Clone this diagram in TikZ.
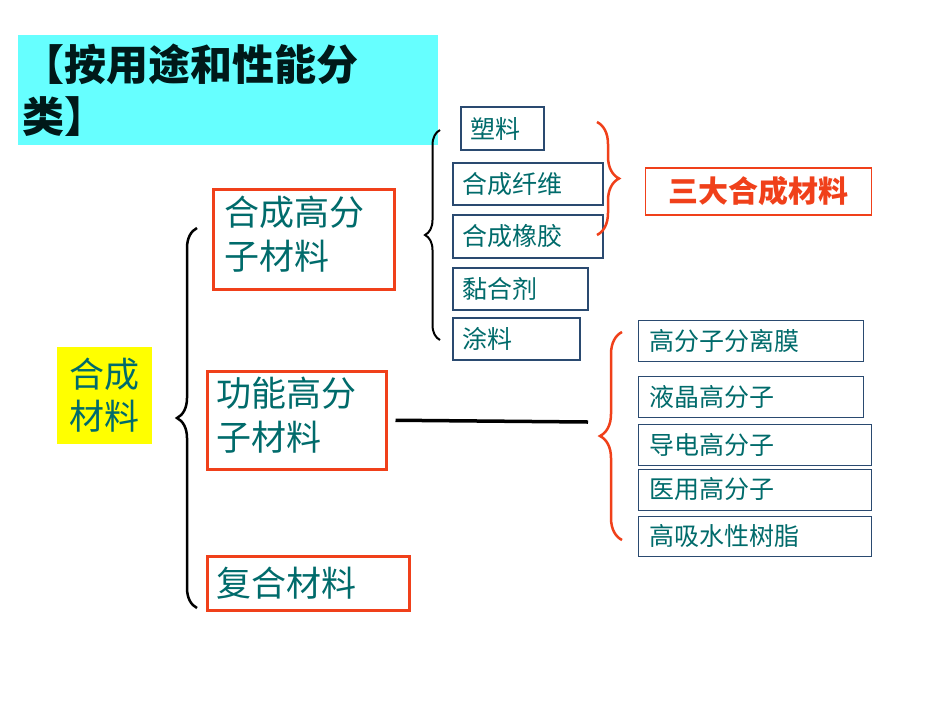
\documentclass[tikz,border=0pt]{standalone}
\usepackage{fontspec}
\setmainfont{Noto Sans CJK SC}
\usetikzlibrary{decorations.pathreplacing}
\definecolor{tl}{HTML}{006B6B}
\definecolor{rd}{HTML}{F0401A}
\definecolor{bl}{HTML}{2A4A70}
\definecolor{cy}{HTML}{66FFFF}
\definecolor{ye}{HTML}{FFFF00}
\begin{document}
\begin{tikzpicture}[x=1pt,y=-1pt,
 big/.style={draw=rd,line width=2.5pt,anchor=north west,inner sep=0pt},
 bt/.style={text=tl,font=\fontsize{35}{44}\selectfont,align=left,anchor=north west,inner sep=0pt},
 sm/.style={draw=bl,line width=1.5pt,anchor=west,inner sep=0pt},
 rt/.style={draw=bl,line width=0.8pt,anchor=west,inner sep=0pt},
 st/.style={text=tl,font=\fontsize{25}{28}\selectfont,anchor=west,inner sep=0pt},
 br/.style={decorate,decoration={brace,amplitude=#1},line width=2.5pt}]
\useasboundingbox (0,0) rectangle (950,713);
\fill[white] (0,0) rectangle (950,713);
\node[fill=cy,minimum width=420,minimum height=110,anchor=north west,inner sep=0pt] (title) at (18,35) {};
\node[anchor=north west,font=\bfseries\fontsize{42}{52}\selectfont,align=left,text=black!80!teal,inner sep=0pt] (tt) at (22,44) {【按用途和性能分\\类】};
\node[fill=ye,minimum width=95,minimum height=97,text=tl,font=\fontsize{35}{42}\selectfont,align=center,inner sep=0pt] (cl) at (104.5,395.5) {合成\\材料};
\draw[br=20pt] (197,608) -- (197,228);
\node[big,minimum width=181,minimum height=100] (a) at (212,188) {};
\node[bt] at (224,196) {合成高分\\子材料};
\node[big,minimum width=179,minimum height=98] (b) at (206,370) {};
\node[bt] at (216,377) {功能高分\\子材料};
\node[big,minimum width=202,minimum height=54] (c) at (206,555) {};
\node[bt,anchor=west] at (216,583) {复合材料};
\draw[br=15pt,line width=2pt] (440,340) -- (440,130);
\node[sm,minimum width=83,minimum height=43] (s1) at (460,128.5) {};
\node[sm,minimum width=150,minimum height=42] (s2) at (452,184) {};
\node[sm,minimum width=150,minimum height=43] (s3) at (452,236.5) {};
\node[sm,minimum width=135,minimum height=42] (s4) at (452,289) {};
\node[sm,minimum width=127,minimum height=42] (s5) at (452,339) {};
\foreach \n/\t in {s1/塑料,s2/合成纤维,s3/合成橡胶,s4/黏合剂,s5/涂料}
  \node[st] at ([xshift=10pt]\n.west) {\t};
\draw[br=22pt,rd] (597,122) -- (597,235);
\node[draw=rd,line width=1.2pt,minimum width=226,minimum height=47,text=rd,font=\bfseries\fontsize{30}{34}\selectfont,anchor=west,inner sep=0pt] (three) at (645,191.5) {三大合成材料};
\draw[line width=3.5pt] (b.east) ++(8,0) coordinate (l0) -- (588,422) coordinate (l1);
\draw[br=22pt,rd] (622,540) -- (622,332);
\node[rt,minimum width=225,minimum height=41] (r1) at (638,340.5) {};
\node[rt,minimum width=225,minimum height=41] (r2) at (638,396.5) {};
\node[rt,minimum width=233,minimum height=41] (r3) at (638,444.5) {};
\node[rt,minimum width=233,minimum height=41] (r4) at (638,489.5) {};
\node[rt,minimum width=233,minimum height=40] (r5) at (638,536) {};
\foreach \n/\t in {r1/高分子分离膜,r2/液晶高分子,r3/导电高分子,r4/医用高分子,r5/高吸水性树脂}
  \node[st] at ([xshift=11pt]\n.west) {\t};
\end{tikzpicture}
\end{document}
